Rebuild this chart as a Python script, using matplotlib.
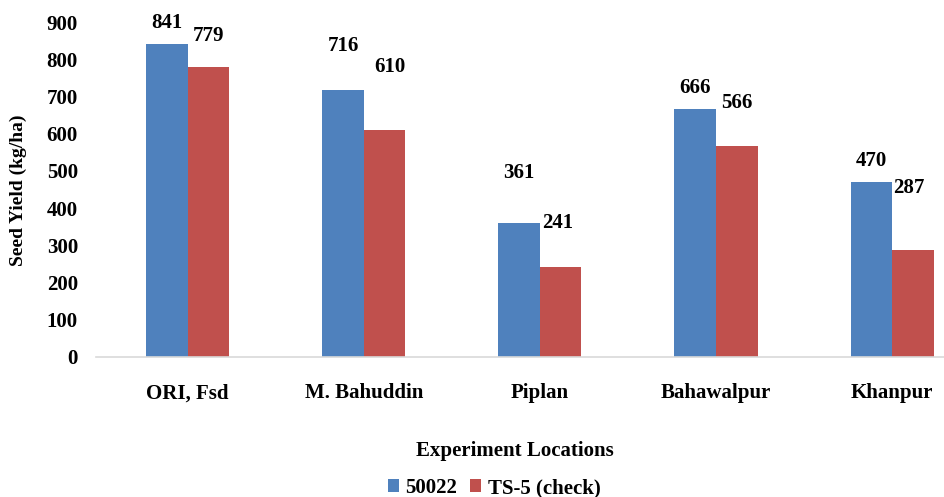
import matplotlib
matplotlib.use("Agg")
import matplotlib.pyplot as plt
import numpy as np

locations = ["ORI, Fsd", "M. Bahuddin", "Piplan", "Bahawalpur", "Khanpur"]
series_names = ["50022", "TS-5 (check)"]
yield_50022 = [841, 716, 361, 666, 470]
yield_ts5 = [779, 610, 241, 566, 287]
y_ticks = [0, 100, 200, 300, 400, 500, 600, 700, 800, 900]

# label layout offsets (points) to mimic reference placement
off_blue = [(0, 15), (0, 32), (0, 36), (0, 15), (0, 15)]
off_red = [(0, 22), (4, 45), (-2, 32), (0, 31), (-3, 45)]

colors = ["#4F81BD", "#C0504D"]
FONT = "Liberation Serif"
plt.rcParams["font.family"] = [FONT, "DejaVu Serif"]
plt.rcParams["font.weight"] = "bold"

fig = plt.figure(figsize=(9.45, 4.97), dpi=100)
ax = fig.add_axes([96 / 945, 1 - 357 / 497, 1 - 96 / 945, (357 - 22) / 497])

x = np.arange(len(locations))
w = 0.236
b1 = ax.bar(x - w / 2, yield_50022, w, color=colors[0], label=series_names[0])
b2 = ax.bar(x + w / 2, yield_ts5, w, color=colors[1], label=series_names[1])

for bars, vals, offs in ((b1, yield_50022, off_blue), (b2, yield_ts5, off_red)):
    for r, v, o in zip(bars, vals, offs):
        ax.annotate(str(v), (r.get_x() + r.get_width() / 2, v), xytext=o,
                    textcoords="offset points", ha="center", va="center",
                    fontsize=15, fontweight="bold", annotation_clip=False)

ax.set_xlim(-0.52, 4.30)
ax.set_ylim(0, 900)
ax.set_yticks(y_ticks)
ax.set_yticklabels([str(t) for t in y_ticks], fontsize=15, fontweight="bold")
ax.set_xticks(x)
ax.set_xticklabels(locations, fontsize=15, fontweight="bold")
ax.tick_params(axis="y", length=0, pad=13)
ax.tick_params(axis="x", length=0, pad=19)
for s in ("top", "right", "left"):
    ax.spines[s].set_visible(False)
ax.spines["bottom"].set_color("#D9D9D9")
ax.spines["bottom"].set_linewidth(1.2)

fig.text(18 / 945, 1 - 190 / 497, "Seed Yield (kg/ha)", rotation=90,
         ha="center", va="center", fontsize=14, fontweight="bold")
fig.text(515 / 945, 1 - 451 / 497, "Experiment Locations", ha="center",
         va="center", fontsize=15, fontweight="bold")

fig.legend(handles=[b1, b2], labels=series_names, loc="center",
           bbox_to_anchor=(494 / 945, 1 - 488 / 497), ncol=2, frameon=False,
           prop={"family": FONT, "weight": "bold", "size": 15},
           handlelength=0.55, handleheight=0.55, handletextpad=0.3,
           columnspacing=0.6, borderpad=0)

fig.savefig("out.png", dpi=100)
